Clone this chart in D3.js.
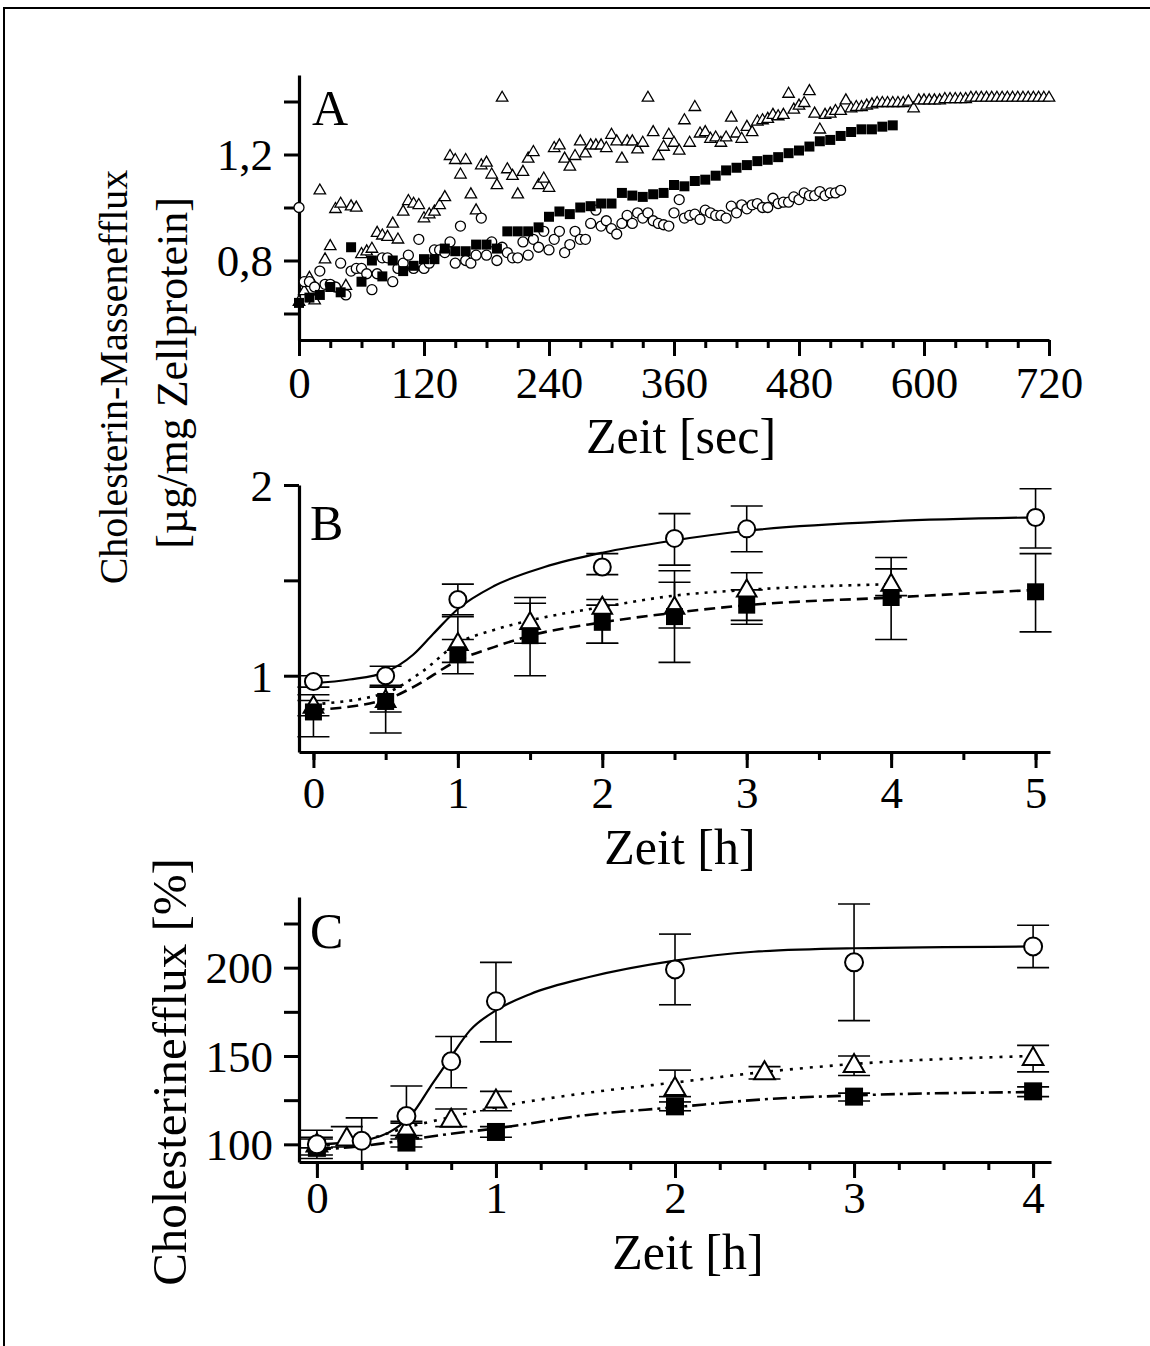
<!DOCTYPE html>
<html>
<head>
<meta charset="utf-8">
<script src="https://cdn.jsdelivr.net/npm/d3@7/dist/d3.min.js"></script>
<style>
  body { margin: 0; background: #fff; }
  svg { display: block; }
</style>
</head>
<body>
<div id="chart"></div>
<script>
// ---- panel A : mass efflux, one value per sampling interval ----
var aSquareStep = 10, aCircleStep = 5, aTriangleStep = 5;   // seconds between points
var aSquareVals = [0.64,0.66,0.67,0.70,0.68,0.85,0.72,0.80,0.74,0.80,
  0.76,0.78,0.805,0.805,0.845,0.835,0.835,0.86,0.86,0.845,
  0.91,0.91,0.91,0.925,0.965,0.985,0.975,1.0,1.005,1.015,
  1.015,1.055,1.045,1.04,1.05,1.055,1.085,1.08,1.10,1.105,
  1.12,1.14,1.15,1.16,1.175,1.18,1.19,1.205,1.215,1.23,
  1.25,1.255,1.27,1.285,1.295,1.295,1.305,1.31];
var aCircleVals = [1.00,0.72,0.72,0.70,0.76,0.71,0.71,0.70,0.79,0.67,
  0.76,0.77,0.77,0.75,0.69,0.75,0.81,0.81,0.72,0.77,
  0.79,0.82,0.77,0.88,0.77,0.79,0.84,0.84,0.83,0.87,
  0.79,0.93,0.80,0.79,0.82,0.96,0.82,0.87,0.80,0.85,
  0.83,0.81,0.81,0.87,0.82,0.88,0.85,0.91,0.84,0.88,
  0.91,0.83,0.86,0.91,0.88,0.88,0.94,0.99,0.93,0.95,
  0.92,0.90,0.94,0.97,0.94,0.98,0.96,0.98,0.95,0.94,
  0.935,0.93,0.98,1.03,0.96,0.97,0.975,0.955,0.99,0.98,
  0.97,0.97,0.96,1.005,0.98,1.01,0.995,1.01,1.015,1.0,
  1.0,1.035,1.015,1.02,1.02,1.04,1.03,1.055,1.045,1.045,
  1.06,1.045,1.055,1.055,1.065];
var aTriangleVals = [0.65,0.69,0.74,0.655,1.07,0.81,0.86,1.0,1.02,0.71,
  1.01,1.005,0.83,0.84,0.85,0.91,0.90,0.895,0.945,0.885,
  0.99,1.03,1.02,1.015,0.965,0.98,0.99,1.015,1.045,1.20,
  1.185,1.13,1.185,1.055,0.995,1.165,1.175,1.13,1.09,1.42,
  1.15,1.125,1.055,1.14,1.19,1.215,1.09,1.115,1.08,1.23,
  1.24,1.19,1.16,1.20,1.255,1.21,1.24,1.24,1.24,1.23,
  1.28,1.255,1.19,1.255,1.255,1.225,1.25,1.42,1.29,1.20,
  1.235,1.28,1.25,1.22,1.335,1.25,1.385,1.285,1.29,1.265,
  1.27,1.25,1.27,1.345,1.285,1.265,1.31,1.29,1.33,1.335,
  1.34,1.355,1.35,1.355,1.435,1.375,1.39,1.40,1.445,1.36,
  1.30,1.355,1.36,1.37,1.37,1.41,1.38,1.385,1.385,1.39,
  1.395,1.40,1.40,1.40,1.40,1.40,1.40,1.405,1.38,1.41,
  1.41,1.41,1.41,1.41,1.415,1.415,1.415,1.415,1.415,1.42,
  1.42,1.42,1.42,1.42,1.42,1.42,1.42,1.42,1.42,1.42,
  1.42,1.42,1.42,1.42,1.42];

// ---- panel B : mass efflux over hours ----
var bCircT = [0,0.5,1,2,2.5,3,5];
var bCircV = [0.97,1.00,1.40,1.57,1.72,1.77,1.83];
var bCircHi = [1.00,1.05,1.48,1.64,1.85,1.89,1.98];
var bCircLo = [0.94,0.95,1.32,1.53,1.58,1.65,1.67];
var bTriT = [0,0.5,1,1.5,2,2.5,3,4];
var bTriV = [0.85,0.88,1.18,1.29,1.37,1.37,1.46,1.49];
var bTriHi = [0.90,0.94,1.31,1.38,1.40,1.55,1.54,1.62];
var bTriLo = [0.79,0.81,1.07,1.17,1.17,1.25,1.29,1.42];
var bSqT = [0,0.5,1,1.5,2,2.5,3,4,5];
var bSqV = [0.81,0.865,1.11,1.21,1.28,1.31,1.37,1.41,1.44];
var bSqHi = [0.87,0.94,1.19,1.41,1.37,1.49,1.45,1.56,1.64];
var bSqLo = [0.68,0.70,1.01,1.00,1.17,1.07,1.27,1.19,1.23];
// fitted curves
var bSolidT = [0,0.25,0.5,0.69,0.83,1.0,1.25,1.6,2,2.5,3,4,5];
var bSolidV = [0.96,0.98,1.02,1.11,1.22,1.35,1.47,1.57,1.645,1.71,1.76,1.81,1.83];
var bDotT = [0,0.5,0.75,1,1.25,1.5,2,2.5,3,4];
var bDotV = [0.85,0.91,1.02,1.17,1.24,1.29,1.36,1.42,1.45,1.48];
var bDashT = [0,0.5,0.69,1,1.25,1.5,2,2.5,3,4,5];
var bDashV = [0.82,0.875,0.94,1.08,1.15,1.21,1.28,1.33,1.37,1.41,1.45];

// ---- panel C : relative efflux [%] ----
var cCircT = [0,0.25,0.5,0.75,1,2,3,4];
var cCircV = [100,102,116,147,181,199,203,212];
var cCircHi = [108,115,133,161,203,219,236,224];
var cCircLo = [92,90,112,132,158,179,170,200];
var cTriT = [0,0.167,0.5,0.75,1,2,2.5,3,4];
var cTriV = [101,104.5,109,115,126,133,142,146,150];
var cTriHi = [104,110,113,120,130,142,144,150,156];
var cTriLo = [98,98.5,105,110,119,127,137,139,141];
var cSqT = [0,0.5,1,2,3,4];
var cSqV = [98,101,107,121.5,127,130];
var cSqHi = [103,103,110,124,129,132.5];
var cSqLo = [94,98.5,104,119,124.5,127];
var cSolidT = [0,0.25,0.44,0.53,0.63,0.745,0.855,1.0,1.19,1.52,2.0,2.44,3.0,4.0];
var cSolidV = [100,102,109,117,132,149,164.5,175.8,185,194.7,204,209,211,212];
var cDotT = [0,0.25,0.5,0.75,1,1.5,2,2.5,3,4];
var cDotV = [99,102,109.5,115.5,121,129,135,141,145.5,150];
var cDashDotT = [0,0.25,0.5,0.75,1,1.5,2,2.5,3,4];
var cDashDotV = [97,99,102.5,106,109,116.5,121,125.5,127.7,129.6];

var FONT = "'Liberation Serif','Times New Roman',serif";
var W = 1150, H = 1346;

var svg = d3.select("#chart").append("svg")
  .attr("width", W).attr("height", H)
  .attr("font-family", FONT);

svg.append("rect").attr("width", W).attr("height", H).attr("fill", "white");
// page frame (only top and left edges are visible)
svg.append("path").attr("d", "M4," + H + "V8H" + W)
  .attr("fill", "none").attr("stroke", "#000").attr("stroke-width", 2);

function pairs(t, v) { return t.map(function(d, i) { return [d, v[i]]; }); }
function tri(w, h) { return "M0," + (-h / 2) + "L" + (w / 2) + "," + (h / 2) + "L" + (-w / 2) + "," + (h / 2) + "Z"; }

function panel(cfg) {
  var x = d3.scaleLinear().domain(cfg.xDom).range(cfg.xRange);
  var y = d3.scaleLinear().domain(cfg.yDom).range(cfg.yRange);
  var g = svg.append("g");
  var y0 = cfg.yRange[0];

  // minor x ticks
  g.append("g").attr("transform", "translate(0," + y0 + ")")
    .call(d3.axisBottom(x).tickValues(cfg.xMinor).tickSize(8).tickFormat("").tickSizeOuter(0))
    .call(function(s) { s.select(".domain").remove(); });
  // major x ticks + labels
  var xa = g.append("g").attr("transform", "translate(0," + y0 + ")")
    .call(d3.axisBottom(x).tickValues(cfg.xMajor).tickSize(16).tickPadding(cfg.xPad).tickSizeOuter(0)
      .tickFormat(d3.format("d")));
  // y ticks
  var ya = g.append("g").attr("transform", "translate(" + cfg.xRange[0] + ",0)")
    .call(d3.axisLeft(y).tickValues(cfg.yTicks).tickSize(15).tickPadding(11).tickSizeOuter(0)
      .tickFormat(function(d) { return cfg.yLabels.indexOf(d) >= 0 ? cfg.yFmt(d) : ""; }));

  g.selectAll(".tick line").attr("stroke", "#000").attr("stroke-width", 3);
  g.selectAll(".domain").attr("stroke", "#000").attr("stroke-width", 3.2);
  g.selectAll(".tick text").attr("font-family", FONT).attr("font-size", 45).attr("fill", "#000");
  ya.selectAll(".tick text").attr("dy", "0.34em");

  // axis title
  g.append("text").attr("x", cfg.titleX).attr("y", cfg.titleY)
    .attr("text-anchor", "middle").attr("font-size", 50).text(cfg.title);
  // panel letter
  g.append("text").attr("x", cfg.letterX).attr("y", cfg.letterY)
    .attr("font-size", 50).text(cfg.letter);

  return { x: x, y: y, g: g };
}

function curve(p, t, v, dash, sw) {
  var line = d3.line().x(function(d) { return p.x(d[0]); }).y(function(d) { return p.y(d[1]); })
    .curve(d3.curveMonotoneX);
  p.g.append("path").attr("d", line(pairs(t, v)))
    .attr("fill", "none").attr("stroke", "#000").attr("stroke-width", sw)
    .attr("stroke-dasharray", dash);
}

function errbars(p, t, lo, hi, cap) {
  var eg = p.g.append("g").attr("stroke", "#000").attr("stroke-width", 1.6);
  t.forEach(function(d, i) {
    var cx = p.x(d);
    eg.append("line").attr("x1", cx).attr("x2", cx).attr("y1", p.y(lo[i])).attr("y2", p.y(hi[i]));
    eg.append("line").attr("x1", cx - cap).attr("x2", cx + cap).attr("y1", p.y(lo[i])).attr("y2", p.y(lo[i]));
    eg.append("line").attr("x1", cx - cap).attr("x2", cx + cap).attr("y1", p.y(hi[i])).attr("y2", p.y(hi[i]));
  });
}

function marks(p, t, v, kind, size, sw) {
  var sel = p.g.append("g").selectAll("path").data(pairs(t, v)).join("path")
    .attr("transform", function(d) { return "translate(" + p.x(d[0]) + "," + p.y(d[1]) + ")"; })
    .attr("stroke", "#000").attr("stroke-width", sw);
  if (kind === "circle") {
    sel.attr("d", d3.symbol(d3.symbolCircle, Math.PI * size * size / 4)).attr("fill", "white");
  } else if (kind === "square") {
    sel.attr("d", d3.symbol(d3.symbolSquare, size * size)).attr("fill", "#000").attr("stroke", "none");
  } else {
    sel.attr("d", tri(size * 1.15, size)).attr("fill", "white");
  }
}

// ---------- A ----------
var A = panel({
  xDom: [0, 720], xRange: [299, 1049],
  yDom: [0.5, 1.5], yRange: [340, 75],
  xMajor: d3.range(0, 721, 120), xMinor: d3.range(0, 721, 30), xPad: 10,
  yTicks: [0.6, 0.8, 1.0, 1.2, 1.4], yLabels: [0.8, 1.2],
  yFmt: function(d) { return d3.format(".1f")(d).replace(".", ","); },
  title: "Zeit [sec]", titleX: 681, titleY: 453,
  letter: "A", letterX: 312, letterY: 125
});
marks(A, aTriangleVals.map(function(d, i) { return i * aTriangleStep; }), aTriangleVals, "triangle", 10, 1.3);
marks(A, aCircleVals.map(function(d, i) { return i * aCircleStep; }), aCircleVals, "circle", 10, 1.3);
marks(A, aSquareVals.map(function(d, i) { return i * aSquareStep; }), aSquareVals, "square", 10, 0);

// ---------- B ----------
var B = panel({
  xDom: [-0.1, 5.1], xRange: [299, 1050],
  yDom: [0.6, 2.0], yRange: [752, 485],
  xMajor: [0, 1, 2, 3, 4, 5], xMinor: d3.range(0, 5.01, 0.5), xPad: 8,
  yTicks: [1, 1.5, 2], yLabels: [1, 2],
  yFmt: d3.format("d"),
  title: "Zeit [h]", titleX: 680, titleY: 864,
  letter: "B", letterX: 310, letterY: 540
});
curve(B, bSolidT, bSolidV, null, 2.2);
curve(B, bDotT, bDotV, "3,6", 2.6);
curve(B, bDashT, bDashV, "11,6", 2.6);
errbars(B, bTriT, bTriLo, bTriHi, 16);
errbars(B, bSqT, bSqLo, bSqHi, 16);
errbars(B, bCircT, bCircLo, bCircHi, 16);
marks(B, bTriT, bTriV, "triangle", 17, 2);
marks(B, bSqT, bSqV, "square", 17, 0);
marks(B, bCircT, bCircV, "circle", 17, 2);

// ---------- C ----------
var C = panel({
  xDom: [-0.1, 4.1], xRange: [299, 1051],
  yDom: [90, 240], yRange: [1162, 897],
  xMajor: [0, 1, 2, 3, 4], xMinor: d3.range(0, 4.01, 0.25), xPad: 3,
  yTicks: [100, 125, 150, 175, 200, 225], yLabels: [100, 150, 200],
  yFmt: d3.format("d"),
  title: "Zeit [h]", titleX: 688, titleY: 1269,
  letter: "C", letterX: 310, letterY: 948
});
curve(C, cSolidT, cSolidV, null, 2.2);
curve(C, cDotT, cDotV, "3,7", 2.6);
curve(C, cDashDotT, cDashDotV, "14,5,3,5", 2.6);
errbars(C, cTriT, cTriLo, cTriHi, 16);
errbars(C, cSqT, cSqLo, cSqHi, 16);
errbars(C, cCircT, cCircLo, cCircHi, 16);
marks(C, cTriT, cTriV, "triangle", 18, 2);
marks(C, cSqT, cSqV, "square", 18, 0);
marks(C, cCircT, cCircV, "circle", 18, 2);

// ---------- y axis titles ----------
svg.append("text").attr("transform", "translate(127,377) rotate(-90)")
  .attr("text-anchor", "middle").attr("font-size", 40).text("Cholesterin-Massenefflux");
svg.append("text").attr("transform", "translate(187,373) rotate(-90)")
  .attr("text-anchor", "middle").attr("font-size", 44).text("[µg/mg Zellprotein]");
svg.append("text").attr("transform", "translate(186,1072) rotate(-90)")
  .attr("text-anchor", "middle").attr("font-size", 49).text("Cholesterinefflux [%]");
</script>
</body>
</html>
